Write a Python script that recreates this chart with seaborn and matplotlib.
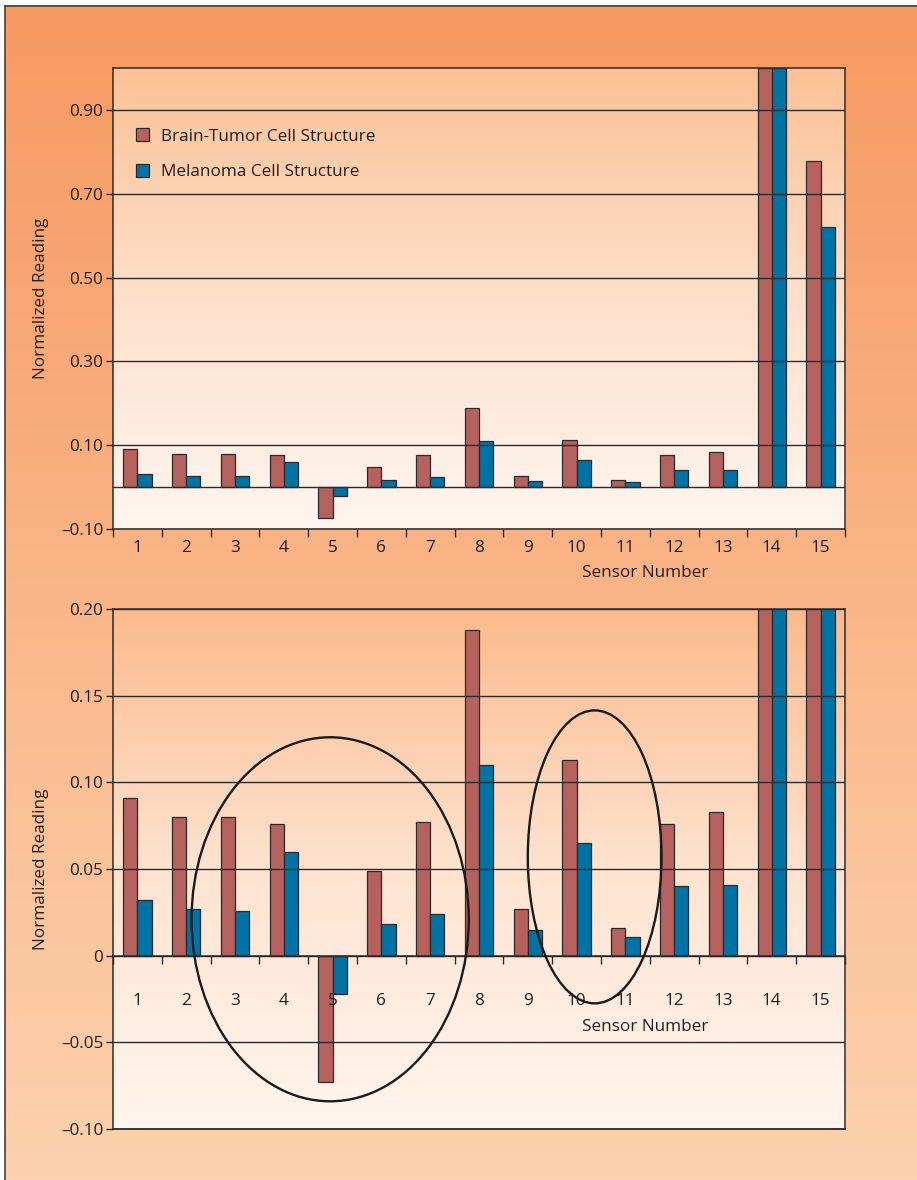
import numpy as np
import pandas as pd
import matplotlib
matplotlib.use("Agg")
import matplotlib.pyplot as plt
import seaborn as sns
from matplotlib.colors import LinearSegmentedColormap
from matplotlib.patches import Ellipse

# values
sensors = [str(i) for i in range(1, 16)]
brain_tumor = [0.091, 0.080, 0.080, 0.076, -0.073, 0.049, 0.077, 0.188, 0.027,
               0.113, 0.016, 0.076, 0.083, 1.00, 0.779]
melanoma = [0.032, 0.027, 0.026, 0.060, -0.022, 0.018, 0.024, 0.110, 0.015,
            0.065, 0.011, 0.040, 0.041, 1.00, 0.621]
series_names = ["Brain-Tumor Cell Structure", "Melanoma Cell Structure"]
series_colors = ["#b5625e", "#0073a4"]

top_yticks = [-0.10, 0.10, 0.30, 0.50, 0.70, 0.90]
top_yticklabels = ["\u20130.10", "0.10", "0.30", "0.50", "0.70", "0.90"]
bottom_yticks = [-0.10, -0.05, 0, 0.05, 0.10, 0.15, 0.20]
bottom_yticklabels = ["\u20130.10", "\u20130.05", "0", "0.05", "0.10", "0.15", "0.20"]

df = pd.DataFrame({
    "sensor": sensors * 2,
    "reading": brain_tumor + melanoma,
    "series": [series_names[0]] * len(sensors) + [series_names[1]] * len(sensors),
})

plt.rcParams['font.family'] = ['Open Sans', 'DejaVu Sans']
TXT = "#231f20"
LINE = "#2a2a2a"
FS = 12.3

fig = plt.figure(figsize=(9.17, 11.8), dpi=100, facecolor="white")

# page background gradient + border
bg = fig.add_axes([0, 0, 1, 1], zorder=-10)
bg_cmap = LinearSegmentedColormap.from_list("bg", ["#f79a62", "#f9ab7a", "#fbc096", "#fdd1ae"])
bg.imshow(np.linspace(0, 1, 256).reshape(-1, 1), cmap=bg_cmap, aspect="auto",
          extent=[0.0055, 1, 0, 0.995], origin="upper")
bg.plot([0.0055, 0.0055], [0, 0.995], color="#4a4038", lw=1.2)
bg.plot([0.0055, 1], [0.995, 0.995], color="#4a4038", lw=1.2)
bg.set_xlim(0, 1)
bg.set_ylim(0, 1)
bg.axis("off")


def draw_panel(ax, ylim, yticks, yticklabels, grad_colors, legend):
    sns.barplot(data=df, x="sensor", y="reading", hue="series", palette=series_colors,
                width=0.58, saturation=1, edgecolor=LINE, linewidth=0.9,
                legend=legend, ax=ax)
    cmap = LinearSegmentedColormap.from_list("ax", grad_colors)
    ax.imshow(np.linspace(0, 1, 256).reshape(-1, 1), cmap=cmap, aspect="auto",
              extent=(-0.5, 14.5, ylim[0], ylim[1]), origin="lower", zorder=0)
    ax.set_xlim(-0.5, 14.5)
    ax.set_ylim(*ylim)
    ax.set_yticks(yticks)
    ax.set_yticklabels(yticklabels, fontsize=FS, color=TXT)
    ax.set_xticks(np.arange(-0.5, 15, 1), minor=True)
    ax.tick_params(axis="x", which="major", length=0, labelsize=FS, labelcolor=TXT)
    ax.tick_params(axis="x", which="minor", length=6, width=1, color=LINE, direction="out")
    ax.tick_params(axis="y", length=5, width=1, color=LINE, direction="out", pad=2)
    ax.yaxis.grid(True, color=LINE, lw=1)
    for s in ax.spines.values():
        s.set_color(LINE)
        s.set_linewidth(1.1)
    ax.set_xlabel("")
    ax.set_ylabel("Normalized Reading", fontsize=FS, color=TXT)
    ax.yaxis.set_label_coords(-0.088, 0.5)


# top panel: full range
ax1 = fig.add_axes([0.1232, 0.5517, 0.7983, 0.3907])
draw_panel(ax1, (-0.10, 1.0), top_yticks, top_yticklabels,
           ["#fff6f0", "#fde0cb", "#fbc195"], legend=True)
ax1.axhline(0, color=LINE, lw=1)
ax1.tick_params(axis="x", which="major", pad=8)
ax1.text(0.727, -0.095, "Sensor Number", transform=ax1.transAxes,
         ha="center", va="center", fontsize=FS, color=TXT)
sns.move_legend(ax1, "upper left", bbox_to_anchor=(0.031, 0.869), frameon=False,
                title=None, fontsize=FS, handlelength=0.8, handleheight=0.8,
                labelspacing=1.12, handletextpad=0.7, borderpad=0, borderaxespad=0,
                labelcolor=TXT)

# bottom panel: zoom on small readings
ax2 = fig.add_axes([0.1232, 0.0432, 0.7983, 0.4407])
draw_panel(ax2, (-0.10, 0.20), bottom_yticks, bottom_yticklabels,
           ["#fff5ee", "#fee3d0", "#fbba8c"], legend=False)
ax2.spines["bottom"].set_position(("data", 0))
ax2.axhline(-0.10, color=LINE, lw=1.3, clip_on=False)
ax2.tick_params(axis="x", which="major", pad=27)
ax2.text(0.727, 0.197, "Sensor Number", transform=ax2.transAxes,
         ha="center", va="center", fontsize=FS, color=TXT)

# highlight circles
ax2.add_patch(Ellipse((3.95, 0.021), 5.68, 0.210, fill=False, lw=1.7,
                      ec="#1a1a1a", zorder=5, clip_on=False))
ax2.add_patch(Ellipse((9.37, 0.057), 2.74, 0.169, fill=False, lw=1.7,
                      ec="#1a1a1a", zorder=5, clip_on=False))

fig.savefig("out.png", dpi=100, facecolor=fig.get_facecolor())
